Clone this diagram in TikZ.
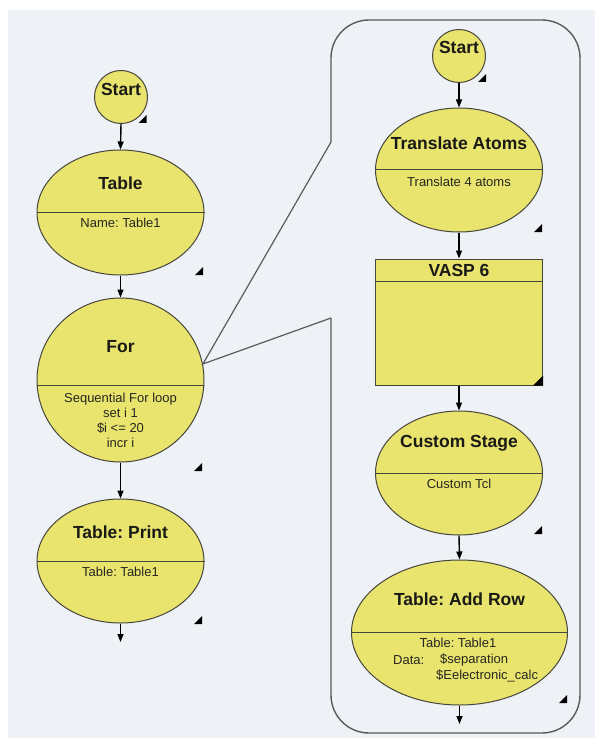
\documentclass[tikz,border=0pt]{standalone}
\usepackage{fontspec}
\setmainfont{Liberation Sans}
\usetikzlibrary{shapes.geometric,arrows.meta}
\definecolor{bg}{RGB}{238,241,245}
\definecolor{stagefill}{RGB}{233,228,110}
\definecolor{edge}{RGB}{70,70,62}
\definecolor{txt}{RGB}{25,25,22}
\definecolor{subtxt}{RGB}{38,38,32}
\definecolor{panel}{RGB}{90,90,90}
\tikzset{
  stageell/.style={shape=ellipse,draw=edge,fill=stagefill,line width=1pt,inner sep=0pt},
  startcirc/.style={shape=circle,draw=edge,fill=stagefill,line width=1pt,inner sep=0pt,minimum size=53pt},
  stagebox/.style={shape=rectangle,draw=edge,fill=stagefill,line width=1pt,inner sep=0pt},
  divider/.style={draw=edge,line width=1pt},
  title/.style={font=\fontsize{17.5}{20}\selectfont\bfseries,text=txt,inner sep=0pt},
  sub/.style={font=\fontsize{13}{15}\selectfont,text=subtxt,inner sep=0pt,align=center},
  flow/.style={draw=black,line width=1.4pt,-{Triangle[width=6pt,length=8pt]}},
  marker/.style={fill=black},
  panelline/.style={draw=panel,line width=1.4pt},
}
\begin{document}
\frenchspacing
\begin{tikzpicture}[x=1pt,y=-1pt]
\useasboundingbox (0,0) rectangle (595,738);
\fill[white] (0,0) rectangle (595,738);
\fill[bg] (8,10) rectangle (595,738);

% right panel with callout
\coordinate (pt1) at (331,142);
\coordinate (pb1) at (331,318);
\draw[panelline,rounded corners=38pt] (pt1) -- (331,20) -- (580,20) -- (580,733) -- (331,733) -- (pb1);

% left column
\node[startcirc] (startL) at (121,97) {};
\node[stageell,minimum width=167pt,minimum height=125pt] (table) at (120.5,212.5) {};
\node[stageell,minimum width=167pt,minimum height=164pt] (for) at (120.5,380) {};
\node[stageell,minimum width=167pt,minimum height=124pt] (print) at (120.5,561) {};
\coordinate (endL) at (120.5,642);

\draw[divider] (table.west) -- (table.east);
\draw[divider] (for.-4.8) -- (for.184.8);
\draw[divider] (print.west) -- (print.east);

\node[title] (startLt) at (121,89) {Start};
\node[title] (tablet) at (120.5,183) {Table};
\node[sub] (tables) at (120.5,223) {Name: Table1};
\node[title] (fort) at (120.5,347) {For};
\node[sub] (fors) at (120.5,420) {Sequential For loop\\set i 1\\\$i <= 20\\incr i};
\node[title] (printt) at (120.5,532) {Table: Print};
\node[sub] (prints) at (120.5,572) {Table: Table1};

\draw[flow] (startL.south) -- (table.north);
\draw[flow] (table.south) -- (for.north);
\draw[flow] (for.south) -- (print.north);
\draw[flow] (print.south) -- (endL);

% callout lines
\draw[panelline,line width=1.2pt] (pt1) -- (for.11.8) -- (pb1);

% right column
\node[startcirc] (startR) at (459,56) {};
\node[stageell,minimum width=167pt,minimum height=124pt] (trans) at (459,170) {};
\node[stagebox,minimum width=167pt,minimum height=126pt] (vasp) at (459,322) {};
\node[stageell,minimum width=167pt,minimum height=124pt] (custom) at (459,473) {};
\node[stageell,minimum width=216pt,minimum height=145pt] (addrow) at (459.5,632.5) {};
\coordinate (endR) at (459.5,724);

\draw[divider] (trans.west) -- (trans.east);
\draw[divider] ([yshift=-23pt]vasp.north west) -- ([yshift=-23pt]vasp.north east);
\draw[divider] (custom.west) -- (custom.east);
\draw[divider] (addrow.west) -- (addrow.east);

\node[title] (startRt) at (459,47) {Start};
\node[title] (transt) at (459,143) {Translate Atoms};
\node[sub] (transs) at (459,182) {Translate 4 atoms};
\node[title] (vaspt) at (459,270) {VASP 6};
\node[title] (customt) at (459,443) {Custom Stage};
\node[sub] (customs) at (459,484) {Custom Tcl};
\node[title] (addrowt) at (459.5,599) {Table: Add Row};
\node[sub] (addrows1) at (458,643) {Table: Table1};
\node[sub,anchor=west] (addrows2) at (393,660) {Data:};
\node[sub,anchor=west] (addrows3) at (440,660) {\$separation};
\node[sub,anchor=west] (addrows4) at (436,676) {\$Eelectronic\_calc};

\draw[flow] (startR.south) -- (trans.north);
\draw[flow] (trans.south) -- (vasp.north);
\draw[flow] (vasp.south) -- (custom.north);
\draw[flow] (custom.south) -- (addrow.north);
\draw[flow] (addrow.south) -- (endR);

% markers
\foreach \p in {(142.5,119),(199,271),(198,467),(198,620),(482,78),(538,228),(538,530),(563,699)}{
  \fill[marker,shift={\p}] (4,-4) -- (4,4) -- (-4,4) -- cycle;
}
\fill[marker] ([yshift=10pt]vasp.south east) -- (vasp.south east) -- ([xshift=-10pt]vasp.south east) -- cycle;
\end{tikzpicture}
\end{document}
